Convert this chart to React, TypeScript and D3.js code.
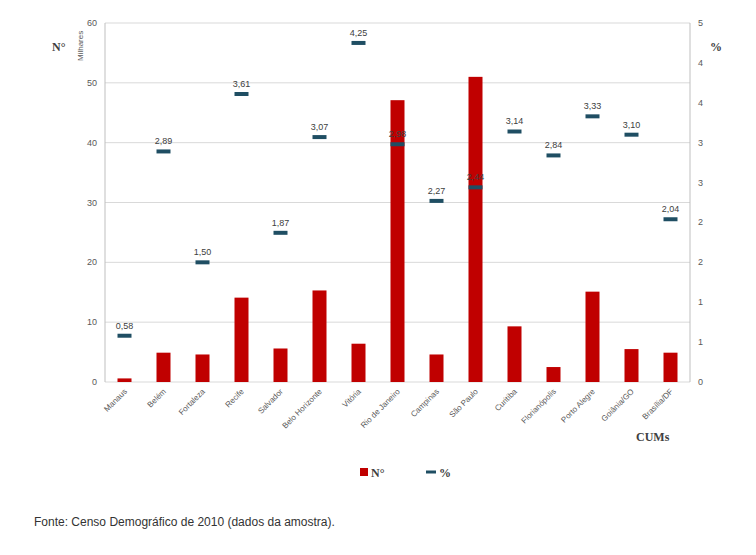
import React, { useRef, useEffect } from 'react';
import * as d3 from 'd3';

const cities = ['Manaus', 'Belém', 'Fortaleza', 'Recife', 'Salvador', 'Belo Horizonte', 'Vitória', 'Rio de Janeiro', 'Campinas', 'São Paulo', 'Curitiba', 'Florianópolis', 'Porto Alegre', 'Goiânia/GO', 'Brasília/DF'];
const numbers = [0.6, 4.9, 4.6, 14.1, 5.6, 15.3, 6.4, 47.1, 4.6, 51.0, 9.3, 2.5, 15.1, 5.5, 4.9];
const percents = [0.58, 2.89, 1.5, 3.61, 1.87, 3.07, 4.25, 2.98, 2.27, 2.44, 3.14, 2.84, 3.33, 3.1, 2.04];
const leftTicks = [0, 10, 20, 30, 40, 50, 60];
const rightTicks = [0, 0.5, 1, 1.5, 2, 2.5, 3, 3.5, 4, 4.5];

const App: React.FC = () => {
  const svgRef = useRef<SVGSVGElement>(null);

  useEffect(() => {
    if (!svgRef.current) return;
    const svg = d3.select(svgRef.current);
    svg.selectAll('*').remove();
    const left = 105, right = 690, top = 23, bottom = 382;
    const font = 'Liberation Sans, Arial, sans-serif';

    const x = d3.scaleBand().domain(cities).range([left, right]);
    const y = d3.scaleLinear().domain([0, 60]).range([bottom, top]);
    const y2 = d3.scaleLinear().domain([0, 4.5]).range([bottom, top]);

    const grid = svg.append('g');
    leftTicks.forEach(t => {
      grid.append('line').attr('x1', left).attr('x2', right).attr('y1', y(t)).attr('y2', y(t))
        .attr('stroke', '#d9d9d9');
    });
    grid.append('line').attr('x1', left).attr('x2', left).attr('y1', top).attr('y2', bottom).attr('stroke', '#bfbfbf');
    grid.append('line').attr('x1', right).attr('x2', right).attr('y1', top).attr('y2', bottom).attr('stroke', '#bfbfbf');

    svg.append('g').selectAll('text').data(leftTicks).enter().append('text')
      .attr('x', left - 8).attr('y', d => y(d) + 3).attr('text-anchor', 'end')
      .attr('font-family', font).attr('font-size', 9).attr('fill', '#595959').text(d => d);
    svg.append('g').selectAll('text').data(rightTicks).enter().append('text')
      .attr('x', right + 8).attr('y', d => y2(d) + 3)
      .attr('font-family', font).attr('font-size', 9).attr('fill', '#595959').text(d => Math.round(d));

    svg.append('g').selectAll('rect').data(numbers).enter().append('rect')
      .attr('x', (d, i) => (x(cities[i]) || 0) + x.bandwidth() / 2 - 7)
      .attr('y', d => y(d)).attr('width', 14).attr('height', d => bottom - y(d))
      .attr('fill', '#c00000');

    const m = svg.append('g');
    percents.forEach((p, i) => {
      const cx = (x(cities[i]) || 0) + x.bandwidth() / 2;
      m.append('line').attr('x1', cx - 7).attr('x2', cx + 7).attr('y1', y2(p)).attr('y2', y2(p))
        .attr('stroke', '#1f4e63').attr('stroke-width', 4);
      m.append('text').attr('x', cx).attr('y', y2(p) - 7).attr('text-anchor', 'middle')
        .attr('font-family', font).attr('font-size', 9).attr('fill', '#404040')
        .text(p.toFixed(2).replace('.', ','));
    });

    svg.append('g').selectAll('text').data(cities).enter().append('text')
      .attr('transform', d => `translate(${(x(d) || 0) + x.bandwidth() / 2 + 3},${bottom + 10}) rotate(-45)`)
      .attr('text-anchor', 'end').attr('font-family', font).attr('font-size', 8).attr('fill', '#595959')
      .text(d => d);

    svg.append('text').attr('transform', `translate(83,${top + 38}) rotate(-90)`)
      .attr('font-family', font).attr('font-size', 8).attr('fill', '#595959').text('Milhares');
    svg.append('text').attr('x', 52).attr('y', 51).attr('font-family', 'Liberation Serif, serif')
      .attr('font-weight', 'bold').attr('font-size', 12).attr('fill', '#404040').text('N°');
    svg.append('text').attr('x', 710).attr('y', 51).attr('font-family', 'Liberation Serif, serif')
      .attr('font-weight', 'bold').attr('font-size', 12).attr('fill', '#404040').text('%');
    svg.append('text').attr('x', 636).attr('y', 441).attr('font-family', 'Liberation Serif, serif')
      .attr('font-weight', 'bold').attr('font-size', 12).attr('fill', '#404040').text('CUMs');

    svg.append('rect').attr('x', 360).attr('y', 468).attr('width', 8).attr('height', 8).attr('fill', '#c00000');
    svg.append('text').attr('x', 371).attr('y', 477).attr('font-family', 'Liberation Serif, serif')
      .attr('font-weight', 'bold').attr('font-size', 12).attr('fill', '#404040').text('N°');
    svg.append('line').attr('x1', 426).attr('x2', 436).attr('y1', 472).attr('y2', 472)
      .attr('stroke', '#1f4e63').attr('stroke-width', 3);
    svg.append('text').attr('x', 439).attr('y', 477).attr('font-family', 'Liberation Serif, serif')
      .attr('font-weight', 'bold').attr('font-size', 12).attr('fill', '#404040').text('%');

    svg.append('text').attr('x', 34).attr('y', 526).attr('font-family', 'Liberation Sans Narrow, Arial Narrow, sans-serif')
      .attr('font-size', 12).attr('fill', '#333').text('Fonte: Censo Demográfico de 2010 (dados da amostra).');
  }, []);

  return (
    <svg ref={svgRef} width={756} height={555} style={{ position: 'absolute', left: 0, top: 0, background: '#fff' }} />
  );
};

export default App;
